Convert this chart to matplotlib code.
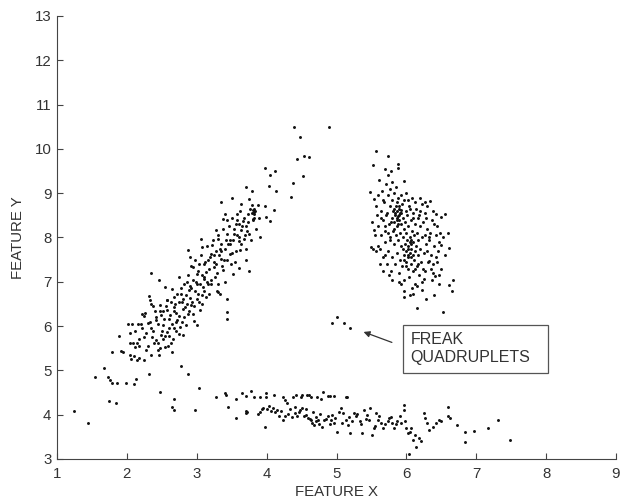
# scatter of two features, three clusters plus the odd four
import numpy as np
import matplotlib
matplotlib.use("Agg")
import matplotlib.pyplot as plt

plt.rcParams['font.family'] = ['Liberation Sans', 'DejaVu Sans']

# diagonal cluster (lower left to upper middle)
diag_pts = [
    (4.39, 10.50), (4.89, 10.50), (4.48, 10.26), (4.44, 9.78), (4.54, 9.84), (4.61, 9.82),
    (4.52, 9.39), (4.38, 9.22), (4.35, 8.91), (3.97, 9.57), (4.05, 9.42), (4.12, 9.51),
    (4.03, 9.17), (4.14, 9.06), (3.79, 9.04), (3.70, 9.15), (3.50, 8.90), (3.35, 8.80),
    (3.75, 8.86), (3.63, 8.76), (3.79, 8.73), (3.81, 8.61), (3.88, 8.74), (3.97, 8.70),
    (3.99, 8.46), (4.05, 8.38), (4.10, 8.63), (3.89, 8.45), (3.81, 8.42), (3.90, 8.02),
    (3.75, 7.24), (3.43, 6.62), (3.43, 6.31), (3.44, 6.17), (3.31, 6.77), (3.33, 6.73),
    (3.82, 8.45), (3.82, 8.52), (3.82, 8.58), (3.82, 8.65),
    (1.89, 5.77), (1.91, 5.44), (1.95, 5.42), (2.01, 6.04), (2.07, 6.04), (2.05, 5.62),
    (2.09, 5.62), (2.12, 5.53), (2.14, 5.61), (2.17, 5.56), (2.04, 5.35), (2.06, 5.25),
    (2.10, 5.32), (2.15, 5.23), (2.18, 5.29), (2.16, 6.04), (2.21, 6.28), (2.24, 6.22),
    (2.25, 5.76), (2.27, 5.47), (2.25, 5.23), (2.30, 6.06), (2.31, 6.68), (2.34, 7.20),
    (2.33, 6.58), (2.35, 6.51), (2.34, 5.95), (2.38, 5.89), (2.41, 6.13), (2.42, 5.68),
    (2.39, 5.61), (2.44, 5.46), (2.46, 5.35), (2.46, 7.05), (2.47, 6.34), (2.49, 6.25),
    (2.51, 6.02), (2.49, 5.80), (2.52, 5.70), (2.54, 5.53), (2.55, 6.88), (2.57, 6.58),
    (2.58, 6.36), (2.60, 6.17), (2.57, 5.87), (2.61, 5.77), (2.63, 5.61), (2.64, 5.42),
    (2.65, 6.84), (2.68, 6.66), (2.69, 6.49), (2.71, 6.30), (2.72, 6.13), (2.68, 5.95),
    (2.74, 5.83), (2.75, 7.11), (2.77, 6.73), (2.79, 6.55), (2.81, 6.38), (2.82, 6.21),
    (2.84, 6.02), (2.81, 5.80), (2.86, 6.99), (2.89, 6.81), (2.90, 6.64), (2.92, 6.47),
    (2.94, 6.28), (2.96, 6.12), (3.00, 6.02), (2.88, 7.72), (2.91, 7.56), (2.95, 7.33),
    (3.00, 7.18), (3.01, 6.96), (3.02, 6.73), (3.03, 6.55), (3.05, 6.36), (3.08, 6.50),
    (3.09, 6.88), (3.10, 7.07), (3.06, 7.97), (3.08, 7.78), (3.11, 7.41), (3.13, 7.22),
    (3.16, 6.96), (3.18, 6.73), (3.20, 7.63), (3.22, 7.82), (3.24, 7.33), (3.26, 7.11),
    (3.29, 6.79), (3.27, 8.16), (3.31, 7.96), (3.33, 7.75), (3.35, 7.52), (3.37, 7.26),
    (3.40, 7.00), (3.38, 8.42), (3.41, 8.53), (3.43, 8.08), (3.45, 7.86), (3.47, 7.63),
    (3.49, 7.41), (3.52, 7.18), (3.53, 8.08), (3.56, 8.31), (3.58, 8.53), (3.60, 7.93),
    (3.62, 7.71), (3.64, 8.16), (3.66, 8.38), (3.67, 7.97), (3.70, 7.75), (3.71, 8.27),
    (3.74, 8.53), (3.60, 7.31), (3.75, 8.08),
    (2.22, 5.95), (2.28, 5.85), (2.33, 6.10), (2.36, 5.75), (2.40, 6.35), (2.44, 6.05),
    (2.45, 5.62), (2.48, 6.48), (2.50, 5.90), (2.53, 6.15), (2.55, 5.78), (2.58, 6.60),
    (2.60, 5.95), (2.62, 6.25), (2.64, 6.05), (2.66, 5.70), (2.68, 6.42), (2.70, 6.10),
    (2.72, 6.72), (2.74, 6.22), (2.76, 5.98), (2.78, 6.85), (2.80, 6.62), (2.83, 6.42),
    (2.85, 6.70), (2.87, 6.28), (2.88, 7.15), (2.90, 6.90), (2.92, 7.35), (2.93, 6.55),
    (2.95, 7.05), (2.97, 6.80), (2.98, 7.50), (3.00, 6.62), (3.02, 7.25), (3.04, 6.95),
    (3.06, 7.60), (3.08, 7.15), (3.10, 6.80), (3.12, 7.45), (3.14, 7.00), (3.15, 7.80),
    (3.17, 7.30), (3.19, 7.55), (3.21, 7.05), (3.23, 7.95), (3.25, 7.45), (3.27, 7.70),
    (3.29, 7.20), (3.30, 8.05), (3.32, 7.60), (3.34, 7.85), (3.36, 7.35), (3.38, 8.20),
    (3.40, 7.75), (3.42, 7.95), (3.44, 7.50), (3.46, 8.25), (3.48, 7.85), (3.50, 8.45),
    (3.52, 7.95), (3.54, 8.20), (3.56, 7.70), (3.58, 8.40), (3.60, 8.00), (3.62, 8.60),
    (3.65, 8.25), (3.68, 8.45), (3.72, 8.15), (3.76, 8.65), (3.80, 8.40), (3.85, 8.20),
    (3.70, 7.50), (3.55, 7.45),
    (2.05, 5.85), (2.12, 5.90), (2.18, 5.70), (2.20, 6.05), (2.26, 6.30), (2.30, 5.55),
    (2.35, 5.35), (2.38, 6.45), (2.42, 6.20), (2.48, 5.50), (2.52, 6.35), (2.56, 6.45),
    (2.59, 5.55), (2.63, 6.55), (2.67, 6.35), (2.71, 5.90), (2.75, 6.55), (2.79, 6.10),
    (2.82, 6.95), (2.86, 6.50), (2.89, 6.35), (2.92, 6.85), (2.96, 6.45), (2.99, 7.00),
    (3.03, 7.40), (3.07, 6.70), (3.11, 7.10), (3.13, 6.65), (3.16, 7.50), (3.20, 6.95),
    (3.24, 7.60), (3.28, 7.40), (3.31, 6.95), (3.35, 7.70), (3.39, 7.50), (3.43, 8.40),
    (3.47, 7.95), (3.51, 7.65), (3.57, 8.05), (3.61, 8.30), (3.64, 7.85), (3.69, 8.05),
    (3.73, 8.35), (3.77, 7.95), (3.79, 8.55), (3.83, 8.60),
]

# right cluster
right_pts = [
    (5.57, 9.96), (5.74, 9.83), (5.52, 9.63), (5.88, 9.66), (5.88, 9.58), (5.96, 9.28),
    (5.78, 9.51), (5.48, 9.03), (5.53, 8.87), (5.57, 8.70), (5.51, 8.35), (5.53, 8.16),
    (5.50, 7.78), (5.52, 7.74), (6.34, 8.83), (6.43, 8.52), (6.55, 8.52), (6.50, 8.47),
    (6.59, 8.10), (6.61, 7.77), (6.49, 7.82), (6.67, 7.03), (6.61, 6.92), (6.65, 6.79),
    (6.52, 6.31), (6.15, 6.41), (6.28, 6.61), (6.39, 6.70), (5.97, 6.66), (6.05, 6.71),
    (6.09, 6.73), (6.49, 7.28), (6.41, 7.12), (6.46, 7.15), (6.38, 7.41), (6.32, 7.48),
    (6.22, 6.82), (6.25, 7.07), (6.15, 6.91),
    (5.60, 8.25), (5.62, 7.75), (5.63, 8.60), (5.64, 8.05), (5.65, 9.05), (5.66, 7.55),
    (5.67, 8.40), (5.68, 8.80), (5.69, 7.90), (5.70, 8.15), (5.71, 9.20), (5.72, 7.40),
    (5.72, 8.55), (5.73, 8.95), (5.74, 7.70), (5.75, 8.30), (5.76, 8.70), (5.77, 8.00),
    (5.77, 9.10), (5.78, 7.25), (5.79, 8.45), (5.79, 7.55), (5.80, 8.85), (5.81, 8.15),
    (5.81, 8.60), (5.82, 7.85), (5.83, 8.35), (5.83, 9.00), (5.84, 8.55), (5.84, 7.40),
    (5.85, 8.70), (5.85, 8.05), (5.86, 8.45), (5.86, 7.65), (5.87, 8.60), (5.87, 8.25),
    (5.88, 8.90), (5.88, 7.95), (5.89, 8.50), (5.89, 7.20), (5.90, 8.40), (5.90, 8.65),
    (5.91, 8.10), (5.91, 7.50), (5.92, 8.55), (5.92, 7.80), (5.93, 8.30), (5.93, 6.95),
    (5.94, 8.75), (5.94, 7.35), (5.95, 8.00), (5.95, 8.45), (5.96, 7.60), (5.96, 8.20),
    (5.97, 8.85), (5.97, 7.05), (5.98, 7.85), (5.98, 8.35), (5.99, 7.45), (5.99, 8.60),
    (6.00, 7.70), (6.00, 8.10), (6.01, 7.95), (6.01, 8.50), (6.02, 7.30), (6.02, 7.80),
    (6.03, 8.25), (6.03, 7.55), (6.04, 8.70), (6.04, 7.10), (6.05, 7.65), (6.05, 8.00),
    (6.06, 7.85), (6.06, 8.40), (6.07, 7.40), (6.07, 7.75), (6.08, 8.15), (6.08, 6.85),
    (6.09, 7.60), (6.09, 8.55), (6.10, 7.90), (6.10, 7.25), (6.11, 8.05), (6.11, 7.50),
    (6.12, 8.30), (6.12, 7.70), (6.13, 6.95), (6.13, 8.80), (6.14, 7.80), (6.15, 8.10),
    (6.15, 7.35), (6.16, 8.45), (6.17, 7.60), (6.17, 7.95), (6.18, 7.15), (6.19, 8.25),
    (6.20, 7.75), (6.20, 8.60), (6.21, 7.45), (6.22, 8.00), (6.23, 7.00), (6.24, 8.35),
    (6.25, 7.65), (6.26, 8.05), (6.27, 7.25), (6.28, 7.85), (6.30, 8.20), (6.31, 7.45),
    (6.33, 7.95), (6.35, 7.60), (6.36, 8.40), (6.38, 7.20), (6.40, 7.80), (6.42, 8.05),
    (6.44, 7.45), (6.46, 6.95), (5.58, 8.50), (5.59, 7.80), (5.61, 9.30), (5.66, 8.85),
    (5.70, 7.60), (5.74, 9.40), (5.76, 7.95), (5.80, 9.25), (5.82, 8.20), (5.85, 9.15),
    (5.88, 8.30), (5.90, 7.00), (5.93, 8.95), (5.96, 6.80), (6.00, 9.00), (6.02, 8.85),
    (6.05, 8.65), (6.08, 8.90), (6.10, 8.45), (6.14, 8.65), (6.18, 8.50), (6.22, 8.75),
    (6.26, 8.55), (6.30, 8.70), (6.34, 8.10), (6.37, 7.05), (6.40, 8.30), (6.45, 7.70),
    (6.48, 8.10), (5.86, 8.80), (5.87, 8.40), (5.89, 8.70), (5.84, 8.50), (5.83, 8.65),
    (5.91, 8.55), (5.92, 8.62), (5.88, 8.48), (6.03, 7.75), (6.05, 7.90), (6.02, 7.60),
    (6.07, 7.95), (6.06, 7.55), (5.95, 7.75), (5.97, 7.50), (6.00, 7.35), (6.12, 7.30),
    (6.16, 7.40), (5.73, 8.10), (5.78, 8.35), (5.71, 8.50), (5.69, 8.25),
    (5.55, 8.05), (5.56, 7.70), (5.60, 8.95), (5.62, 7.40), (5.66, 7.25), (5.70, 9.55),
    (5.64, 8.45), (5.75, 7.15), (5.80, 7.05), (6.28, 8.45), (6.32, 8.00), (6.35, 7.30),
    (6.38, 8.60), (6.42, 7.55), (6.44, 8.25), (6.47, 7.90), (6.52, 8.00), (6.55, 7.60),
    (6.30, 7.70), (6.24, 7.30), (6.20, 8.90), (6.26, 8.80),
]

# bottom band and the loose points at the left
low_pts = [
    (1.25, 4.09), (1.44, 3.82), (1.55, 4.85), (1.67, 5.06), (1.73, 4.86), (1.76, 4.78),
    (1.78, 4.71), (1.86, 4.71), (1.75, 4.30), (1.84, 4.27), (1.78, 5.42), (1.99, 4.71),
    (2.10, 4.69), (2.13, 4.81), (2.31, 4.92), (2.47, 4.52), (2.77, 5.09), (2.87, 4.92),
    (3.03, 4.60), (2.97, 4.11), (2.67, 4.36), (2.65, 4.17), (2.67, 4.10), (3.27, 4.39),
    (3.41, 4.48), (3.42, 4.44), (3.45, 4.17), (3.56, 4.35), (3.56, 3.92), (3.65, 4.50),
    (3.70, 4.43), (3.77, 4.53), (3.82, 4.41), (3.90, 4.39), (3.99, 4.48), (3.99, 4.39),
    (4.11, 4.45), (4.23, 4.39), (4.27, 4.33), (4.29, 4.27), (4.38, 4.41), (4.42, 4.45),
    (4.50, 4.45), (4.60, 4.45), (4.72, 4.41), (4.80, 4.52), (4.90, 4.43), (4.97, 4.42),
    (5.15, 4.40), (3.70, 4.09), (3.71, 4.03), (3.88, 4.01), (3.94, 4.12), (3.98, 3.73),
    (4.23, 3.87), (4.26, 3.96),
    (4.41, 4.03), (4.44, 3.96), (4.48, 4.11), (4.51, 4.15), (4.56, 4.00), (4.59, 3.92),
    (4.63, 3.88), (4.65, 3.81), (4.68, 3.77), (4.71, 3.85), (4.75, 3.79), (4.79, 3.73),
    (4.82, 3.87), (4.88, 3.96), (4.92, 3.88), (4.94, 4.00), (4.96, 3.81), (5.01, 3.62),
    (5.06, 4.15), (5.10, 4.03), (5.13, 3.88), (5.16, 3.77), (5.19, 3.58), (5.25, 4.03),
    (5.28, 3.96), (5.33, 3.85), (5.36, 3.58), (5.39, 4.11), (5.44, 4.00), (5.47, 3.88),
    (5.51, 3.55), (5.53, 3.70), (5.57, 4.03), (5.61, 3.96), (5.64, 3.81), (5.67, 3.70),
    (5.73, 3.85), (5.75, 3.92), (5.79, 3.81), (5.83, 3.70), (5.87, 3.85), (5.91, 3.96),
    (5.93, 3.81), (5.96, 4.22), (5.96, 4.11), (5.99, 3.70), (6.03, 3.58), (6.07, 3.70),
    (6.10, 3.43), (6.14, 3.28), (6.18, 3.47), (6.21, 3.40), (6.25, 4.03), (6.27, 3.92),
    (6.30, 3.81), (6.32, 3.66), (6.38, 3.73), (6.43, 3.81), (6.46, 3.88), (6.50, 3.85),
    (6.59, 3.96), (6.60, 4.17), (6.63, 3.92), (6.72, 3.77), (6.84, 3.60), (6.84, 3.39),
    (6.97, 3.64), (7.17, 3.69), (7.31, 3.87), (7.48, 3.43), (6.04, 3.12),
    (4.49, 4.40), (4.58, 4.45), (4.64, 4.40), (4.78, 4.35), (4.88, 4.42), (5.14, 4.39),
    (3.72, 4.06), (3.90, 4.05), (3.95, 4.15), (4.00, 4.12), (4.03, 4.20), (4.06, 4.08),
    (4.09, 4.14), (4.12, 4.05), (4.15, 4.10), (4.18, 3.98), (4.20, 4.08), (4.30, 4.02),
    (4.33, 4.12), (4.36, 3.95), (4.40, 4.18), (4.46, 4.05), (4.53, 3.98), (4.57, 4.12),
    (4.62, 3.90), (4.66, 4.05), (4.70, 3.95), (4.74, 3.88), (4.77, 4.02), (4.85, 3.90),
    (4.90, 3.78), (4.98, 3.92), (5.03, 4.05), (5.08, 3.82), (5.18, 3.95), (5.22, 3.85),
    (5.30, 4.02), (5.35, 3.78), (5.42, 3.90), (5.48, 4.15), (5.55, 3.75), (5.60, 3.88),
    (5.70, 3.78), (5.78, 3.95), (5.85, 3.78), (5.98, 3.85), (6.05, 3.62), (6.12, 3.55),
]

# the four odd ones
freak_pts = [(4.94, 6.06), (5.01, 6.21), (5.11, 6.07), (5.20, 5.96)]

all_pts = np.array(diag_pts + right_pts + low_pts + freak_pts)

fig = plt.figure(figsize=(6.22, 5.01), dpi=100)
ax = fig.add_axes([57/622, 42/501, 559/622, 443/501])

ax.scatter(all_pts[:, 0], all_pts[:, 1], s=4.5, c='#111111', linewidths=0)

ax.set_xlim(1, 9)
ax.set_ylim(3, 13)
ax.set_xticks(range(1, 10))
ax.set_yticks(range(3, 14))
ax.spines['top'].set_visible(False)
ax.spines['right'].set_visible(False)
for s in ['left', 'bottom']:
    ax.spines[s].set_color('#444444')
    ax.spines[s].set_linewidth(0.8)
ax.tick_params(direction='in', length=4, width=0.8, color='#444444',
               labelsize=10.8, labelcolor='#333333')
ax.tick_params(axis='x', pad=6)
ax.tick_params(axis='y', pad=4)

ax.set_xlabel('FEATURE X', fontsize=10.8, color='#333333', labelpad=3)
ax.set_ylabel('FEATURE Y', fontsize=10.8, color='#333333', labelpad=7)

# annotation box and arrow
ax.annotate('', xy=(5.35, 5.89), xytext=(5.83, 5.61),
            arrowprops=dict(arrowstyle='-|>', color='#333333', lw=0.9,
                            mutation_scale=9))
ax.add_patch(plt.Rectangle((5.95, 4.95), 2.07, 1.07, fill=False,
                           edgecolor='#555555', linewidth=0.9))
ax.text(6.06, 5.49, 'FREAK\nQUADRUPLETS', fontsize=11.5, color='#333333',
        va='center', ha='left', linespacing=1.25)

fig.savefig('out.png', dpi=100)
